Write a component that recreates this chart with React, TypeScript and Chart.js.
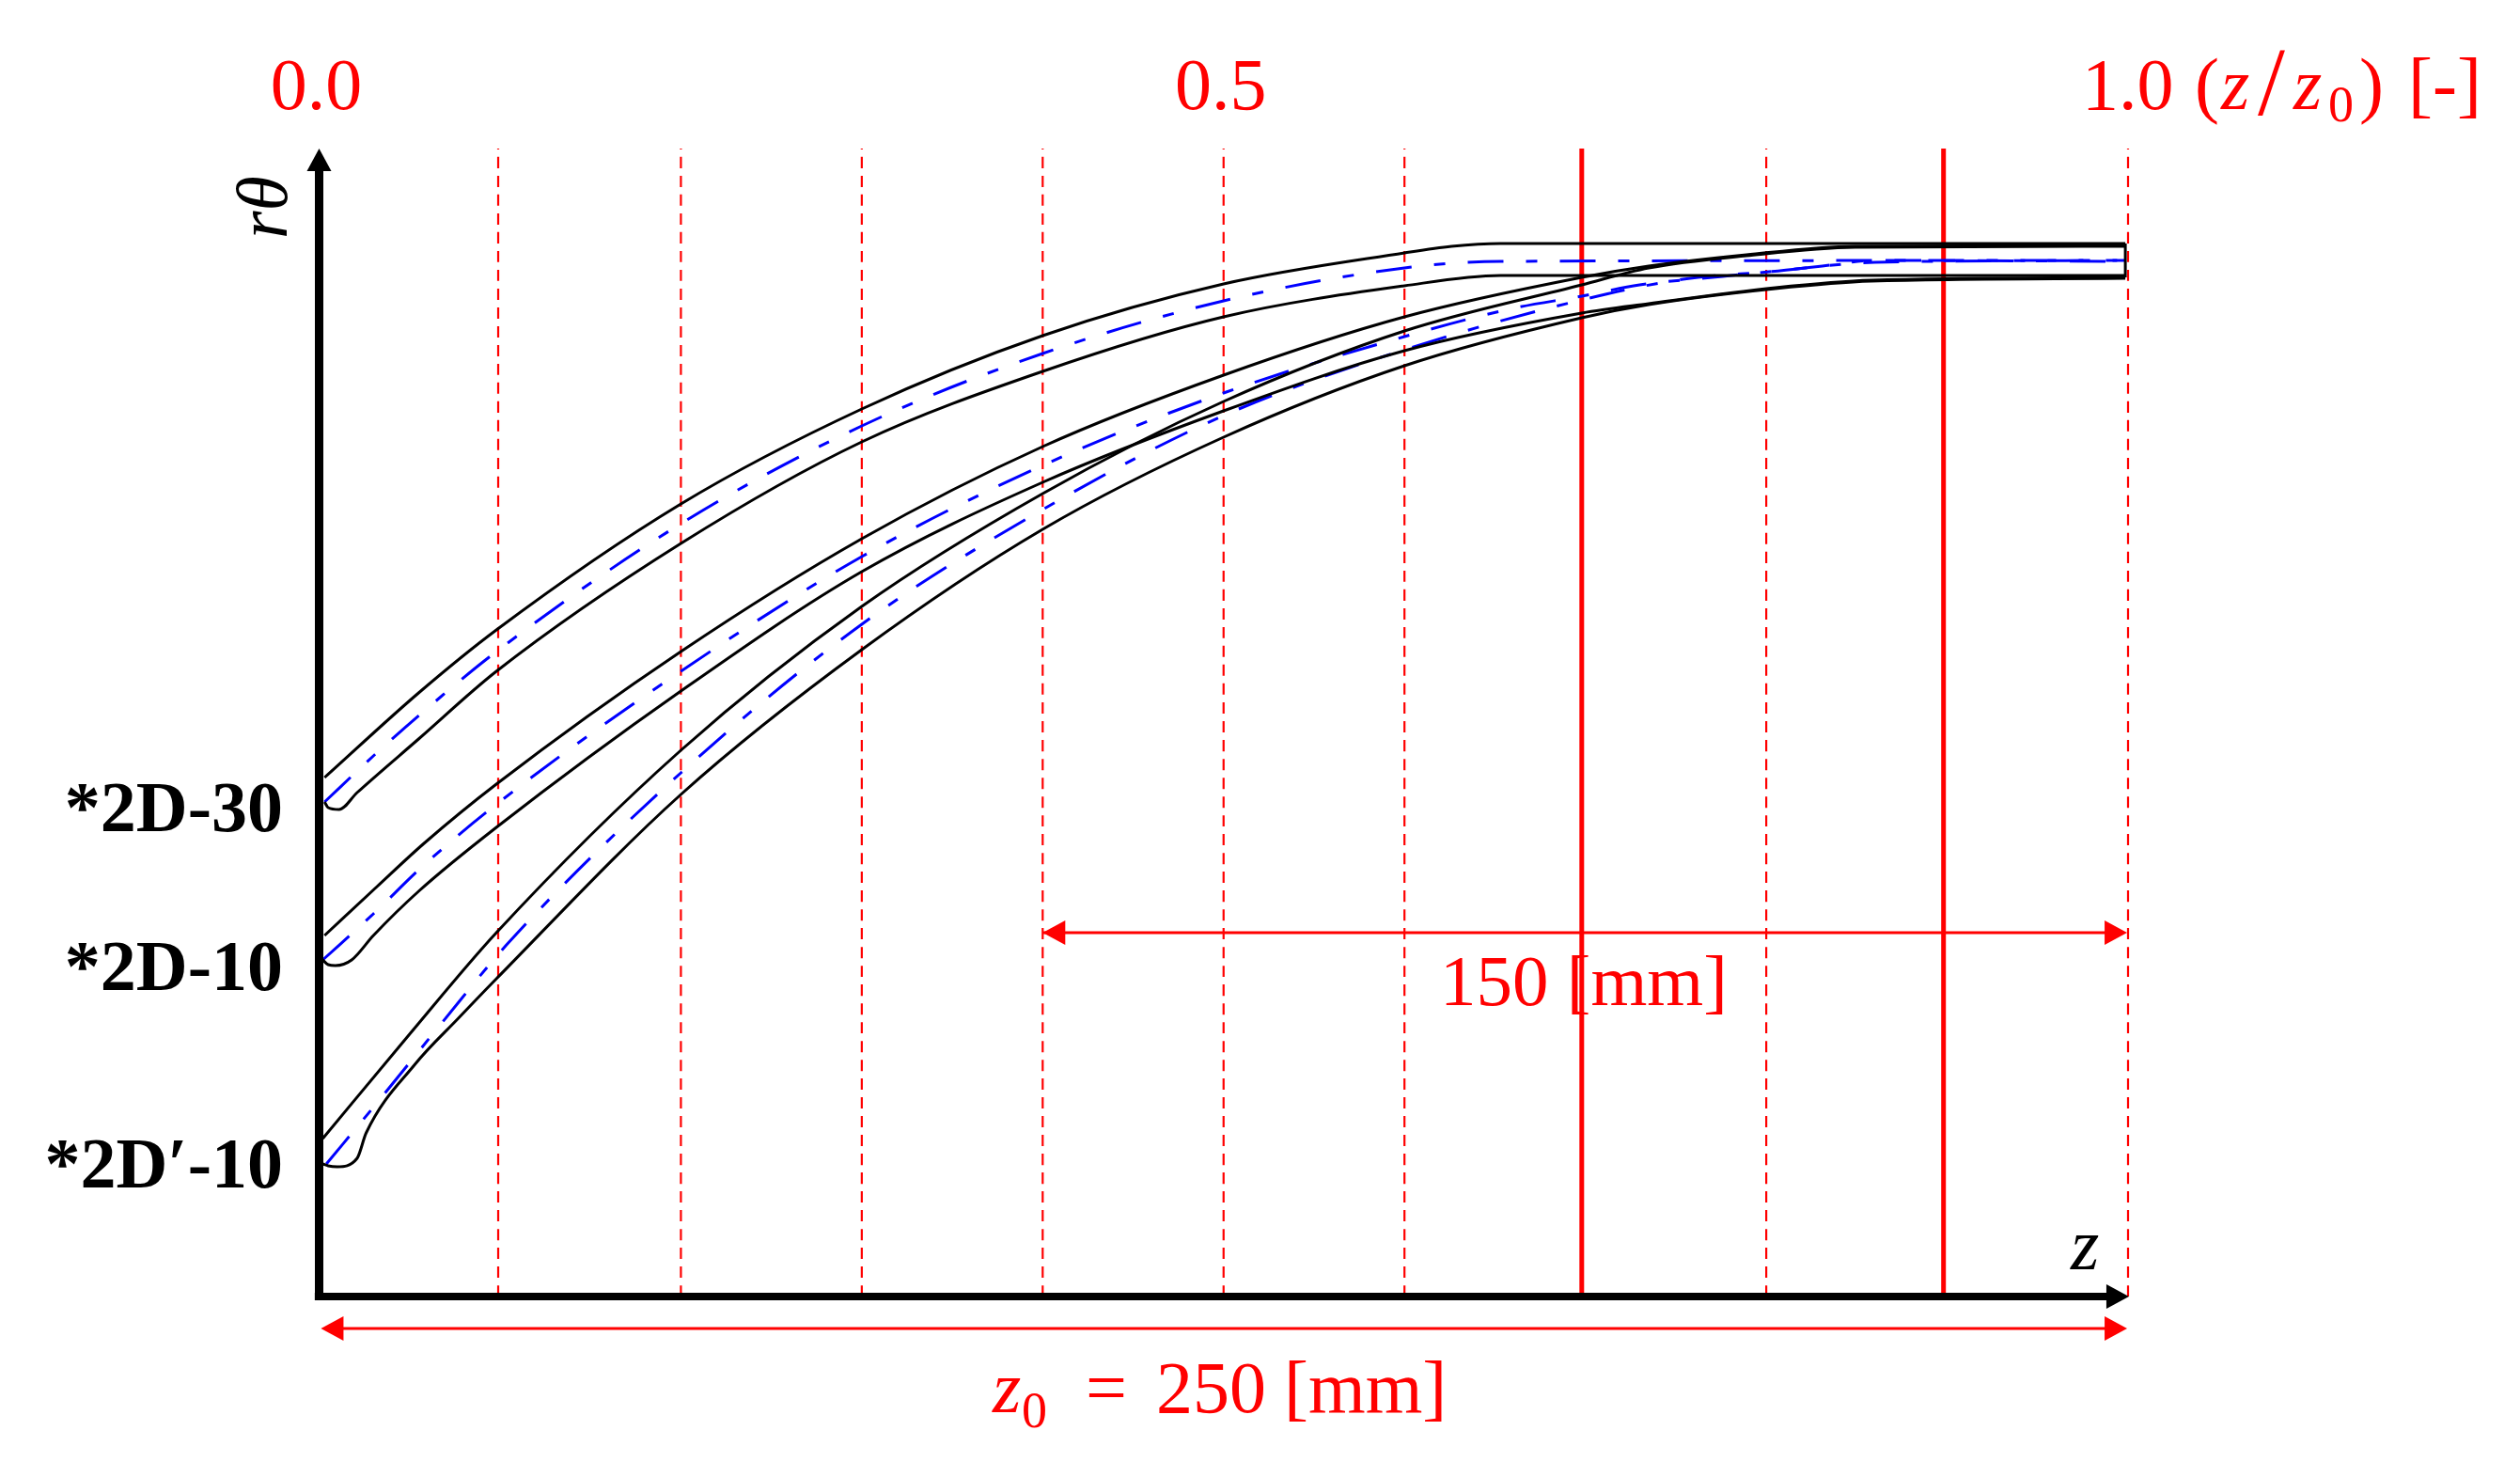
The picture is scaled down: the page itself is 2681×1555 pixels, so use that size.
import { useEffect, useRef } from "react";

import { Chart, registerables } from "chart.js";

Chart.register(...registerables);

// z/z0 on x, r-theta in arbitrary picture units on y
const BAND1_UPPER_Z = [0.003, 0.055, 0.098, 0.2, 0.3, 0.4, 0.5, 0.6, 0.626, 0.653, 0.9985];
const BAND1_UPPER_Y = [552, 642, 709, 843, 944, 1022, 1077, 1110, 1117, 1120, 1120];
const BAND1_LOWER_Z = [0.003, 0.005, 0.011, 0.021, 0.055, 0.098, 0.2, 0.3, 0.4, 0.5, 0.6, 0.653, 0.9985];
const BAND1_LOWER_Y = [526, 520, 518, 536, 593, 665, 801, 909, 984, 1042, 1075, 1086, 1086];
const BAND1_MID_Z = [0.003, 0.03, 0.057, 0.098, 0.2, 0.3, 0.4, 0.5, 0.6, 0.653, 0.9985];
const BAND1_MID_Y = [526, 575, 621, 686, 822, 926, 1003, 1059, 1094, 1101, 1102];

const BAND2_UPPER_Z = [0.003, 0.032, 0.058, 0.098, 0.2, 0.3, 0.4, 0.5, 0.6, 0.698, 0.735, 0.789, 0.849, 0.9985];
const BAND2_UPPER_Y = [384, 436, 482, 545, 686, 806, 904, 980, 1042, 1084, 1096, 1108, 1117, 1118];
const BAND2_LOWER_Z = [0.002, 0.005, 0.009, 0.018, 0.03, 0.055, 0.098, 0.2, 0.3, 0.4, 0.5, 0.6, 0.698, 0.735, 0.805, 0.858, 0.9985];
const BAND2_LOWER_Y = [358, 353, 352, 358, 384, 431, 499, 644, 771, 866, 942, 1006, 1046, 1056, 1073, 1081, 1084];
const BAND2_MID_Z = [0.002, 0.03, 0.058, 0.101, 0.2, 0.3, 0.4, 0.5, 0.6, 0.66, 0.698, 0.73, 0.776, 0.831, 0.86, 0.9985];
const BAND2_MID_Y = [358, 407, 459, 528, 665, 787, 884, 961, 1021, 1051, 1064, 1076, 1085, 1096, 1102, 1101];

const BAND3_UPPER_Z = [0.002, 0.05, 0.098, 0.2, 0.3, 0.4, 0.5, 0.6, 0.698, 0.735, 0.789, 0.849, 0.9985];
const BAND3_UPPER_Y = [168, 279, 387, 581, 734, 854, 952, 1027, 1076, 1094, 1107, 1116, 1117];
const BAND3_LOWER_Z = [0.002, 0.005, 0.01, 0.021, 0.026, 0.053, 0.077, 0.098, 0.2, 0.3, 0.4, 0.5, 0.6, 0.698, 0.735, 0.805, 0.858, 0.9985];
const BAND3_LOWER_Y = [141, 139, 138, 147, 174, 247, 296, 338, 534, 688, 816, 914, 990, 1041, 1055, 1072, 1080, 1083];
const BAND3_MID_Z = [0.004, 0.032, 0.067, 0.105, 0.2, 0.3, 0.4, 0.5, 0.6, 0.698, 0.754, 0.802, 0.86, 0.9985];
const BAND3_MID_Y = [141, 206, 289, 377, 557, 715, 837, 937, 1007, 1060, 1082, 1090, 1100, 1102];

const DASHED_Z = [0.099, 0.2, 0.3, 0.4, 0.5, 0.6, 0.8, 1.0];
const SOLID_Z = [0.698, 0.898];
const TOP_TICKS = ["0.0", "0.5"];
const TOP_TICK_Z = [0, 0.5];
const BAND_LABELS = ["*2D-30", "*2D-10", "*2D\u2032-10"];
const BAND_LABEL_Y = [495, 326, 116];

const BLACK = "#000000";
const BLUE = "#0000ff";
const RED = "#ff0000";
const SERIF = '"Liberation Serif"';

function pts(zs: number[], ys: number[]) {
  return zs.map((z, i) => ({ x: z, y: ys[i] }));
}

function curve(data: { x: number; y: number }[], color: string, width: number, dash: number[] = []) {
  return {
    data,
    borderColor: color,
    borderWidth: width,
    borderDash: dash,
    pointRadius: 0,
    showLine: true,
    cubicInterpolationMode: "monotone" as const,
    clip: false as const,
  };
}

function arrowHead(ctx: CanvasRenderingContext2D, x: number, y: number, dx: number, dy: number, color: string) {
  const len = 24;
  const half = 13;
  ctx.fillStyle = color;
  ctx.beginPath();
  ctx.moveTo(x, y);
  ctx.lineTo(x - dx * len - dy * half, y - dy * len - dx * half);
  ctx.lineTo(x - dx * len + dy * half, y - dy * len + dx * half);
  ctx.closePath();
  ctx.fill();
}

const drawings = {
  id: "drawings",
  afterDraw(chart: Chart) {
    const ctx = chart.ctx;
    const xs = chart.scales.x;
    const ys = chart.scales.y;
    const put = (text: string, x: number, y: number, font: string, color = RED) => {
      ctx.font = font;
      ctx.fillStyle = color;
      ctx.fillText(text, x, y);
    };
    ctx.save();
    ctx.textBaseline = "alphabetic";

    // axis and dimension arrow heads
    arrowHead(ctx, xs.getPixelForValue(0), ys.getPixelForValue(1221), 0, -1, BLACK);
    arrowHead(ctx, xs.getPixelForValue(1.0005), ys.getPixelForValue(0), 1, 0, BLACK);
    arrowHead(ctx, xs.getPixelForValue(0.4), ys.getPixelForValue(387), -1, 0, RED);
    arrowHead(ctx, xs.getPixelForValue(0.9995), ys.getPixelForValue(387), 1, 0, RED);
    arrowHead(ctx, xs.getPixelForValue(0.001), ys.getPixelForValue(-34), -1, 0, RED);
    arrowHead(ctx, xs.getPixelForValue(0.9995), ys.getPixelForValue(-34), 1, 0, RED);

    // top axis labels
    ctx.textAlign = "center";
    TOP_TICKS.forEach((t, i) => put(t, xs.getPixelForValue(TOP_TICK_Z[i]) - 3, 116, `78px ${SERIF}`));

    ctx.textAlign = "left";
    put("1.0", 2215, 116, `78px ${SERIF}`);
    put("(", 2335, 116, `78px ${SERIF}`);
    put("z", 2363, 116, `italic 78px ${SERIF}`);
    put("/", 2402, 122, `104px ${SERIF}`);
    put("z", 2440, 116, `italic 78px ${SERIF}`);
    put("0", 2477, 129, `54px ${SERIF}`);
    put(")", 2510, 116, `78px ${SERIF}`);
    put("[-]", 2562, 116, `78px ${SERIF}`);

    // band labels
    ctx.textAlign = "right";
    BAND_LABELS.forEach((t, i) => {
      ctx.font = `bold 76px ${SERIF}`;
      ctx.fillStyle = BLACK;
      ctx.fillText(t, 301, ys.getPixelForValue(BAND_LABEL_Y[i]), i === 2 ? 272 : 248);
    });

    // dimension labels
    ctx.textAlign = "left";
    put("150 [mm]", 1532, 1069, `77px ${SERIF}`);
    put("z", 1056, 1502, `italic 78px ${SERIF}`);
    put("0", 1087, 1518, `54px ${SERIF}`);
    put("=", 1155, 1502, `78px ${SERIF}`);
    put("250", 1230, 1502, `78px ${SERIF}`);
    put("[mm]", 1366, 1502, `78px ${SERIF}`);

    // axis names
    put("z", 2203, 1350, `italic 78px ${SERIF}`, BLACK);
    ctx.translate(305, 254);
    ctx.rotate(-Math.PI / 2);
    put("r\u03b8", 0, 0, `italic 76px ${SERIF}`, BLACK);
    ctx.restore();
  },
};

export default function App() {
  const canvasRef = useRef<HTMLCanvasElement>(null);

  useEffect(() => {
    if (!canvasRef.current) return;
    const midDash = [38, 24, 12, 24];

    const chart = new Chart(canvasRef.current, {
      type: "scatter",
      data: {
        datasets: [
          // axes on top, first dataset is drawn last
          curve(pts([-0.0024, 0.99], [0, 0]), BLACK, 8),
          curve(pts([0, 0], [-4, 1200]), BLACK, 9),
          // band outlines
          curve(pts(BAND1_UPPER_Z, BAND1_UPPER_Y), BLACK, 3),
          curve(pts(BAND1_LOWER_Z, BAND1_LOWER_Y), BLACK, 3),
          curve(pts(BAND2_UPPER_Z, BAND2_UPPER_Y), BLACK, 3),
          curve(pts(BAND2_LOWER_Z, BAND2_LOWER_Y), BLACK, 3),
          curve(pts(BAND3_UPPER_Z, BAND3_UPPER_Y), BLACK, 3),
          curve(pts(BAND3_LOWER_Z, BAND3_LOWER_Y), BLACK, 3),
          curve(pts([0.9985, 0.9985], [1084, 1120]), BLACK, 3),
          // centre lines
          curve(pts(BAND1_MID_Z, BAND1_MID_Y), BLUE, 3, midDash),
          curve(pts(BAND2_MID_Z, BAND2_MID_Y), BLUE, 3, midDash),
          curve(pts(BAND3_MID_Z, BAND3_MID_Y), BLUE, 3, midDash),
          // dimension lines
          curve(pts([0.4, 0.99], [387, 387]), RED, 3),
          curve(pts([0.005, 0.99], [-34, -34]), RED, 3),
          // section lines
          ...SOLID_Z.map((z) => curve(pts([z, z], [0, 1221]), RED, 5)),
          ...DASHED_Z.map((z) => curve(pts([z, z], [0, 1221]), RED, 2.2, [12, 8])),
        ],
      },
      options: {
        animation: false,
        responsive: false,
        devicePixelRatio: 1,
        layout: { padding: { left: 339.5, right: 417, top: 158, bottom: 176 } },
        plugins: { legend: { display: false }, tooltip: { enabled: false } },
        scales: {
          x: { type: "linear", display: false, min: 0, max: 1 },
          y: { type: "linear", display: false, min: 0, max: 1221 },
        },
      },
      plugins: [drawings],
    });

    return () => {
      chart.destroy();
    };
  }, []);

  return (
    <div style={{ position: "absolute", left: 0, top: 0, background: "#ffffff" }}>
      <canvas ref={canvasRef} width={2681} height={1555} style={{ display: "block" }} />
    </div>
  );
}
